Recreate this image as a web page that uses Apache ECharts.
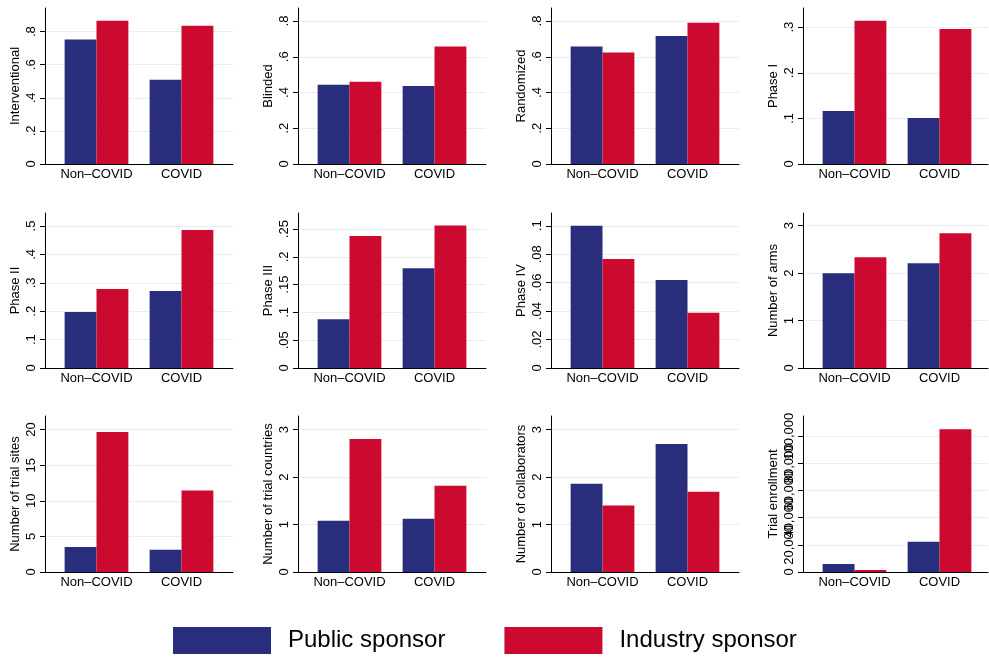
<!DOCTYPE html>
<html><head><meta charset="utf-8">
<script src="https://cdn.jsdelivr.net/npm/echarts@6/dist/echarts.min.js"></script>
<style>html,body{margin:0;padding:0;background:#fff}#c{width:989px;height:657px}</style>
</head><body><div id="c"></div>
<script>
// ---- data ----
const categories = ['Non–COVID', 'COVID'];
const seriesNames = ['Public sponsor', 'Industry sponsor'];
const panelTitles = ['Interventional', 'Blinded', 'Randomized', 'Phase I',
  'Phase II', 'Phase III', 'Phase IV', 'Number of arms',
  'Number of trial sites', 'Number of trial countries', 'Number of collaborators', 'Trial enrollment'];
const publicSponsor = [
  [0.752, 0.510], [0.443, 0.437], [0.658, 0.716], [0.116, 0.101],
  [0.197, 0.271], [0.0877, 0.1796], [0.100, 0.0619], [1.995, 2.206],
  [3.50, 3.13], [1.079, 1.121], [1.857, 2.699], [5880, 22300]
];
const industrySponsor = [
  [0.866, 0.836], [0.460, 0.658], [0.624, 0.791], [0.314, 0.296],
  [0.278, 0.486], [0.2375, 0.2566], [0.0766, 0.0388], [2.333, 2.838],
  [19.67, 11.45], [2.804, 1.815], [1.402, 1.689], [1470, 105150]
];
const axisMax = [0.943, 0.873, 0.873, 0.342, 0.546, 0.279, 0.109, 3.267, 21.9, 3.287, 3.287, 114950];
const tickStep = [0.2, 0.2, 0.2, 0.1, 0.1, 0.05, 0.02, 1, 5, 1, 1, 20000];

// ---- layout / style ----
const colAxisX = [45, 298, 551, 803];
const rowTop = [8, 213, 416];
const rowBottom = [164, 368, 572];
const FONT = 'Liberation Sans, Arial, Helvetica, sans-serif';
const BLUE = '#282d7c';
const RED = '#cc0a30';

function fmt(v, i) {
  if (i === 11) return Math.round(v).toLocaleString('en-US');
  const s = String(+(+v).toFixed(4));
  return s.replace(/^0\./, '.');
}
function ticks(i) {
  const out = [];
  for (let k = 0; ; k++) {
    const v = +(k * tickStep[i]).toFixed(6);
    if (v > axisMax[i] + 1e-9) break;
    out.push(v);
  }
  return out;
}

const grid = [], xAxis = [], yAxis = [], series = [];
for (let i = 0; i < 12; i++) {
  const r = Math.floor(i / 4), c = i % 4;
  const x = colAxisX[c];
  const top = rowTop[r];
  const h = rowBottom[r] - rowTop[r];
  const w = Math.min(188, 988 - x);
  const tv = ticks(i);
  const tvEven = tv.filter((_, k) => k % 2 === 0);
  const tvOdd = tv.filter((_, k) => k % 2 === 1);
  const labelStyle = {rotate: 90, margin: 7, fontSize: 13, color: '#000', fontFamily: FONT,
    showMinLabel: true, showMaxLabel: true, hideOverlap: false, formatter: (v) => fmt(v, i)};

  grid.push({left: x, top: top, width: w, height: h, containLabel: false});
  const gA = grid.length - 1;
  grid.push({left: x + 9, top: top, width: 170, height: h, containLabel: false});
  const gB = grid.length - 1;

  xAxis.push({gridIndex: gA, type: 'value', min: 0, max: 1,
    axisLine: {show: true, onZero: false, lineStyle: {color: '#000', width: 1}},
    axisTick: {show: false}, axisLabel: {show: false}, splitLine: {show: false}});
  xAxis.push({gridIndex: gB, type: 'category', data: categories,
    axisLine: {show: false}, axisTick: {show: false},
    axisLabel: {interval: 0, margin: 4, fontSize: 13, color: '#000', fontFamily: FONT}});
  const xB = xAxis.length - 1;

  yAxis.push({gridIndex: gA, type: 'value', position: 'left', min: 0, max: axisMax[i],
    axisLine: {show: true, onZero: false, lineStyle: {color: '#000', width: 1}},
    axisTick: {show: true, length: 5, customValues: tv, lineStyle: {color: '#000'}},
    axisLabel: Object.assign({customValues: tvEven}, labelStyle),
    splitLine: {show: true, lineStyle: {color: '#e8eff1', width: 1}},
    name: panelTitles[i], nameLocation: 'middle', nameGap: 23, nameRotate: 90,
    nameTextStyle: {fontSize: 13, color: '#000', fontFamily: FONT}});
  if (tvOdd.length) {
    yAxis.push({gridIndex: gA, type: 'value', position: 'left', offset: 0, min: 0, max: axisMax[i],
      axisLine: {show: false}, axisTick: {show: false}, splitLine: {show: false},
      axisLabel: Object.assign({customValues: tvOdd}, labelStyle)});
  }
  yAxis.push({gridIndex: gB, type: 'value', min: 0, max: axisMax[i], show: false});
  const yB = yAxis.length - 1;

  series.push({type: 'bar', name: seriesNames[0], xAxisIndex: xB, yAxisIndex: yB,
    data: publicSponsor[i], barGap: '0%', barCategoryGap: '25%',
    itemStyle: {color: BLUE}, silent: true});
  series.push({type: 'bar', name: seriesNames[1], xAxisIndex: xB, yAxisIndex: yB,
    data: industrySponsor[i], barGap: '0%', barCategoryGap: '25%',
    itemStyle: {color: RED}, silent: true});
}

const chart = echarts.init(document.getElementById('c'), null, {renderer: 'canvas'});
chart.setOption({
  animation: false,
  backgroundColor: '#fff',
  grid, xAxis, yAxis, series,
  legend: {data: seriesNames, left: 173, top: 627, padding: 0, itemWidth: 98, itemHeight: 27, itemGap: 59,
    icon: 'rect', selectedMode: false,
    textStyle: {fontSize: 24, color: '#000', fontFamily: FONT, padding: [0, 0, 0, 12]}}
});
</script></body></html>
